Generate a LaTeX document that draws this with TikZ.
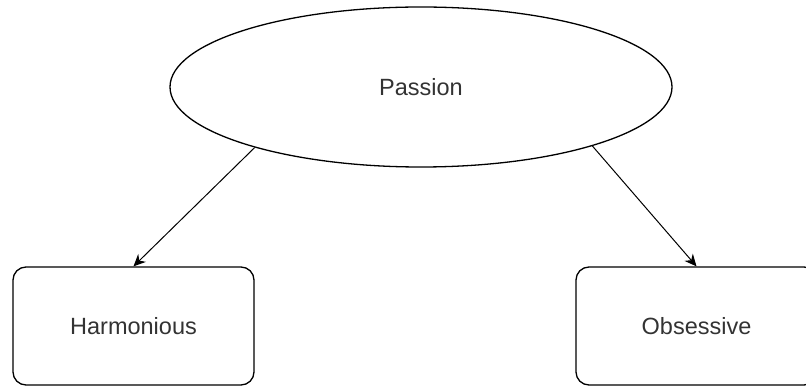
\documentclass[tikz,border=0pt]{standalone}
\usepackage{fontspec}
\setmainfont{Liberation Sans}
\usetikzlibrary{arrows.meta,shapes.geometric}

\definecolor{txtgray}{HTML}{333333}
\tikzset{
  oval/.style={draw, ellipse, line width=1.3pt, minimum width=502pt, minimum height=160pt,
    inner sep=0pt, text=txtgray, font=\fontsize{23.5}{28}\selectfont},
  kindbox/.style={draw, rounded corners=13pt, line width=1.3pt, minimum width=241pt,
    minimum height=118pt, inner sep=0pt, text=txtgray, font=\fontsize{23.5}{28}\selectfont},
  link/.style={-{Stealth[length=12pt,width=11pt]}, line width=1pt}
}

\begin{document}
\begin{tikzpicture}[x=1pt,y=-1pt]
  \useasboundingbox (0,0) rectangle (806,387);
  \clip (0,0) rectangle (806,387);
  \node[oval] (passion) at (421,87) {Passion};
  \node[kindbox] (harm) at (133.5,326) {Harmonious};
  \node[kindbox] (obs) at (696.5,326) {Obsessive};
  \draw[link] (passion.200) -- (harm.north);
  \draw[link] (passion.341.5) -- (obs.north);
\end{tikzpicture}
\end{document}
